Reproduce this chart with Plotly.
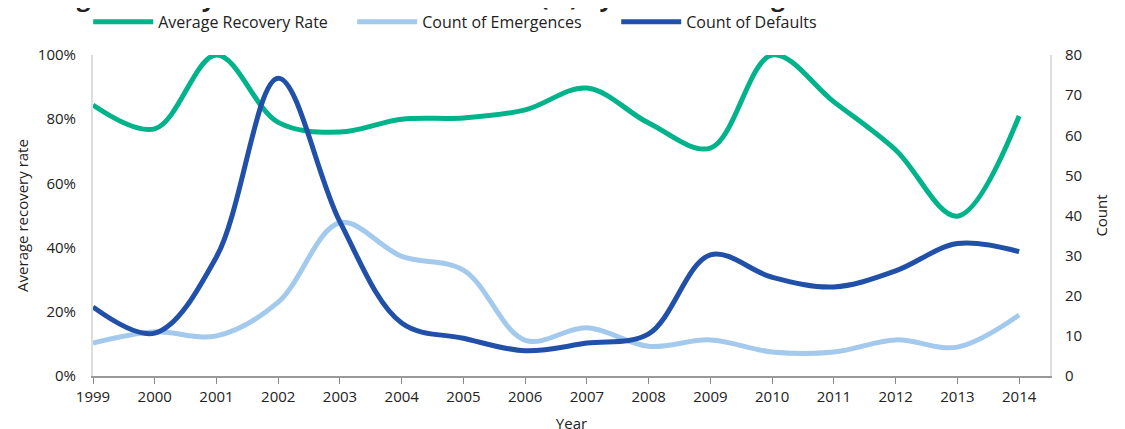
import plotly.graph_objects as go

years = list(range(1999, 2015))

recovery_rate = [84.4, 77, 100, 79, 76, 80, 80.4, 82.9, 89.7, 78.8, 71, 100, 85.4, 70.4, 49.8, 81]
emergences = [8.2, 11, 10, 18.4, 38.2, 29.8, 26.4, 8.9, 12, 7.4, 9, 6, 6, 9, 7.2, 15.2]
defaults = [17.2, 10.7, 29.7, 74.2, 38.4, 13.2, 9.4, 6.3, 8.2, 10.5, 30.2, 24.6, 22.2, 26.2, 33, 31]

pct_ticks = [0, 20, 40, 60, 80, 100]
pct_labels = ["0%", "20%", "40%", "60%", "80%", "100%"]
count_ticks = [0, 10, 20, 30, 40, 50, 60, 70, 80]

title_text = "Average recovery rate and count of defaults (%) by default rating"

font_family = "Open Sans, Noto Sans, sans-serif"

fig = go.Figure()

# recovery rate on the left (percent) axis
fig.add_trace(go.Scatter(
    x=years, y=recovery_rate, name="Average Recovery Rate",
    mode="lines", line=dict(color="#00B38A", width=5, shape="spline", smoothing=1),
))

# counts on the right axis
fig.add_trace(go.Scatter(
    x=years, y=emergences, name="Count of Emergences", yaxis="y2",
    mode="lines", line=dict(color="#A3CAEC", width=5, shape="spline", smoothing=1),
))
fig.add_trace(go.Scatter(
    x=years, y=defaults, name="Count of Defaults", yaxis="y2",
    mode="lines", line=dict(color="#2150A8", width=5, shape="spline", smoothing=1),
))

# the page body adds ~8px, so margins are shifted up/left by that much
fig.update_layout(
    width=1125, height=429,
    margin=dict(l=85, r=83, t=47, b=61, autoexpand=False),
    paper_bgcolor="white", plot_bgcolor="white",
    font=dict(family=font_family, size=15, color="#222222"),
    showlegend=True,
    legend=dict(orientation="h", x=-0.005, xanchor="left", y=1.103, yanchor="middle",
                font=dict(size=16), itemwidth=60, entrywidth=189, entrywidthmode="pixels",
                tracegroupgap=0),
    xaxis=dict(
        range=[1999, 2014.5], tickmode="array", tickvals=years,
        ticks="outside", ticklen=6, tickcolor="#888888",
        showline=True, linecolor="#999999", linewidth=2,
        showgrid=False, zeroline=False, automargin=False,
        title=dict(text="Year", font=dict(size=15), standoff=13),
    ),
    yaxis=dict(
        range=[0, 100], tickmode="array", tickvals=pct_ticks, ticktext=pct_labels,
        ticks="outside", ticklen=12, tickcolor="rgba(0,0,0,0)",
        showline=True, linecolor="#DDDDDD", linewidth=2,
        showgrid=False, zeroline=False, automargin=False,
        title=dict(text="Average recovery rate", font=dict(size=15), standoff=6),
    ),
    yaxis2=dict(
        overlaying="y", side="right",
        range=[0, 80], tickmode="array", tickvals=count_ticks,
        ticks="outside", ticklen=10, tickcolor="rgba(0,0,0,0)",
        showline=True, linecolor="#DDDDDD", linewidth=2,
        showgrid=False, zeroline=False, automargin=False,
        title=dict(text="Count", font=dict(size=15), standoff=15),
    ),
)

# title sits mostly above the top edge of the page, like the cropped original
fig.add_annotation(
    text="<b>" + title_text + "</b>", xref="paper", yref="paper",
    x=-0.092, xanchor="left", y=1.124, yanchor="bottom",
    showarrow=False, font=dict(size=24, color="#222222", family=font_family),
)

fig.write_html("out.html")
